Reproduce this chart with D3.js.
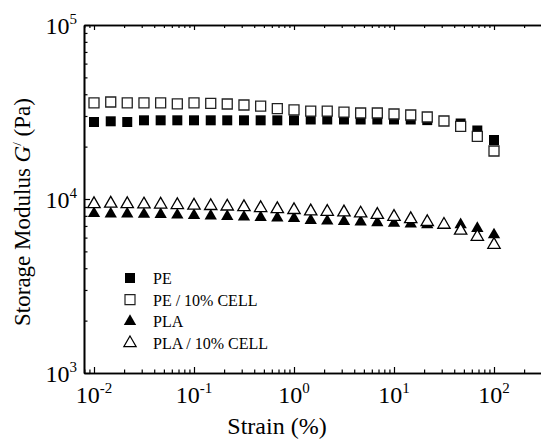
<!DOCTYPE html>
<html>
<head>
<meta charset="utf-8">
<script src="https://cdn.jsdelivr.net/npm/d3@7"></script>
<style>
  body { margin: 0; background: #fff; }
  svg { display: block; }
  text { font-family: "Liberation Serif", "DejaVu Serif", serif; }
</style>
</head>
<body>
<svg width="541" height="441"></svg>
<script>
// strain values (%)
const strain = [0.01, 0.0147, 0.0215, 0.0316, 0.0464, 0.0681, 0.1, 0.147, 0.215, 0.316, 0.464, 0.681,
    1, 1.47, 2.15, 3.16, 4.64, 6.81, 10, 14.7, 21.5, 31.6, 46.4, 68.1, 100];

// storage modulus G' (Pa) for each series
const pe = [27700, 27960, 27700, 28330, 28330, 28330, 28330, 28330, 28330, 28330, 28330, 28330, 28330,
    28640, 28640, 28640, 28640, 28640, 28640, 28640, 28400, 28100, 27160, 24760, 21830];
const peCell = [35720, 36100, 35720, 35720, 35720, 35240, 35720, 35420, 35160, 34700, 34150, 33040, 32560,
    31960, 31960, 31600, 31200, 31200, 30800, 30390, 29600, 28070, 26170, 22920, 18870];
const pla = [8250, 8200, 8200, 8170, 8150, 8090, 8050, 8000, 7940, 7880, 7830, 7780, 7740,
    7540, 7470, 7440, 7380, 7310, 7250, 7190, 7120, 7040, 7120, 6780, 6230];
const plaCell = [9360, 9420, 9360, 9320, 9300, 9240, 9170, 9120, 9060, 8990, 8880, 8760, 8650,
    8500, 8450, 8390, 8270, 8120, 7910, 7670, 7380, 7120, 6590, 6070, 5460];

const xMajor = [0.01, 0.1, 1, 10, 100];
const xMajorExp = ["-2", "-1", "0", "1", "2"];
const yMajor = [1000, 10000, 100000];
const yMajorExp = ["3", "4", "5"];

const legendLabels = ["PE", "PE / 10% CELL", "PLA", "PLA / 10% CELL"];

const serif = "Liberation Serif";
const svg = d3.select("svg").attr("font-family", serif);

// plot frame
const frame = { left: 84, right: 544, top: 25, bottom: 373 };

const x = d3.scaleLog()
    .domain([Math.pow(10, -2.1), Math.pow(10, 2.5)])
    .range([frame.left, frame.right]);

const y = d3.scaleLog()
    .domain([1000, 100000])
    .range([frame.bottom, frame.top]);

// minor ticks between decades
const xMinor = [];
[0.001, 0.01, 0.1, 1, 10, 100].forEach(p => {
    for (let k = 2; k <= 9; k++) {
        const v = p * k;
        if (v > x.domain()[0] && v < x.domain()[1]) xMinor.push(v);
    }
});
const yMinor = [];
[1000, 10000].forEach(p => {
    for (let k = 2; k <= 9; k++) yMinor.push(p * k);
});

function styleAxis(sel) {
    sel.select(".domain").attr("stroke", "#000").attr("stroke-width", 1.6);
    sel.selectAll(".tick line").attr("stroke", "#000").attr("stroke-width", 1.2);
    sel.selectAll(".tick text").remove();
}

// bottom axis, ticks point inward
const xAxisG = svg.append("g").attr("transform", `translate(0,${frame.bottom})`);
xAxisG.call(d3.axisBottom(x).tickValues(xMajor).tickSizeInner(-6).tickSizeOuter(0).tickFormat(""));
styleAxis(xAxisG);
const xMinorG = svg.append("g").attr("transform", `translate(0,${frame.bottom})`);
xMinorG.call(d3.axisBottom(x).tickValues(xMinor).tickSizeInner(-3.5).tickSizeOuter(0).tickFormat(""));
styleAxis(xMinorG);

// top axis
const xTopG = svg.append("g").attr("transform", `translate(0,${frame.top})`);
xTopG.call(d3.axisTop(x).tickValues(xMajor).tickSizeInner(-5).tickSizeOuter(0).tickFormat(""));
styleAxis(xTopG);
const xTopMinorG = svg.append("g").attr("transform", `translate(0,${frame.top})`);
xTopMinorG.call(d3.axisTop(x).tickValues(xMinor).tickSizeInner(-3).tickSizeOuter(0).tickFormat(""));
styleAxis(xTopMinorG);

// left axis
const yAxisG = svg.append("g").attr("transform", `translate(${frame.left},0)`);
yAxisG.call(d3.axisLeft(y).tickValues(yMajor).tickSizeInner(-6).tickSizeOuter(0).tickFormat(""));
styleAxis(yAxisG);
const yMinorG = svg.append("g").attr("transform", `translate(${frame.left},0)`);
yMinorG.call(d3.axisLeft(y).tickValues(yMinor).tickSizeInner(-3.5).tickSizeOuter(0).tickFormat(""));
styleAxis(yMinorG);

// x tick labels with exponents
xMajor.forEach((v, i) => {
    const t = svg.append("text")
        .attr("x", x(v))
        .attr("y", 403)
        .attr("text-anchor", "middle")
        .attr("font-family", serif)
        .attr("font-size", "24px");
    t.append("tspan").text("10");
    t.append("tspan").attr("dy", -10).attr("font-size", "15px").text(xMajorExp[i]);
});

// y tick labels with exponents
yMajor.forEach((v, i) => {
    const t = svg.append("text")
        .attr("x", 77)
        .attr("y", y(v) + 9)
        .attr("text-anchor", "end")
        .attr("font-family", serif)
        .attr("font-size", "24px");
    t.append("tspan").text("10");
    t.append("tspan").attr("dy", -10).attr("font-size", "15px").text(yMajorExp[i]);
});

// axis titles
svg.append("text")
    .attr("x", 277)
    .attr("y", 434)
    .attr("text-anchor", "middle")
    .attr("font-family", serif)
    .attr("font-size", "24px")
    .text("Strain (%)");

const yTitle = svg.append("text")
    .attr("transform", "rotate(-90)")
    .attr("x", -212)
    .attr("y", 30)
    .attr("text-anchor", "middle")
    .attr("font-family", serif)
    .attr("font-size", "23px");
yTitle.append("tspan").text("Storage Modulus ");
yTitle.append("tspan").attr("font-style", "italic").text("G");
yTitle.append("tspan").attr("dy", -9).attr("font-size", "13px").text("/");
yTitle.append("tspan").attr("dy", 9).text(" (Pa)");

// symbols
const squareSym = d3.symbol().type(d3.symbolSquare).size(100);
const triSym = d3.symbol().type(d3.symbolTriangle).size(66);

const seriesList = [
    { vals: pe, sym: squareSym, fill: "#000", stroke: "none" },
    { vals: pla, sym: triSym, fill: "#000", stroke: "none" },
    { vals: peCell, sym: squareSym, fill: "#fff", stroke: "#222" },
    { vals: plaCell, sym: triSym, fill: "#fff", stroke: "#000" }
];

seriesList.forEach(s => {
    svg.append("g").selectAll("path")
        .data(s.vals)
        .enter()
        .append("path")
        .attr("transform", (d, i) => `translate(${x(strain[i])},${y(d)})`)
        .attr("d", s.sym())
        .attr("fill", s.fill)
        .attr("stroke", s.stroke)
        .attr("stroke-width", 1.3);
});

// legend
const legendSyms = [
    { sym: squareSym, fill: "#000", stroke: "none" },
    { sym: squareSym, fill: "#fff", stroke: "#222" },
    { sym: triSym, fill: "#000", stroke: "none" },
    { sym: triSym, fill: "#fff", stroke: "#000" }
];
const legend = svg.append("g").attr("transform", "translate(130,278)");
legendLabels.forEach((lab, i) => {
    legend.append("path")
        .attr("transform", `translate(0,${i * 21.7})`)
        .attr("d", legendSyms[i].sym())
        .attr("fill", legendSyms[i].fill)
        .attr("stroke", legendSyms[i].stroke)
        .attr("stroke-width", 1.2);
    legend.append("text")
        .attr("x", 23)
        .attr("y", i * 21.7 + 6)
        .attr("font-family", serif)
        .attr("font-size", "16px")
        .text(lab);
});
</script>
</body>
</html>
